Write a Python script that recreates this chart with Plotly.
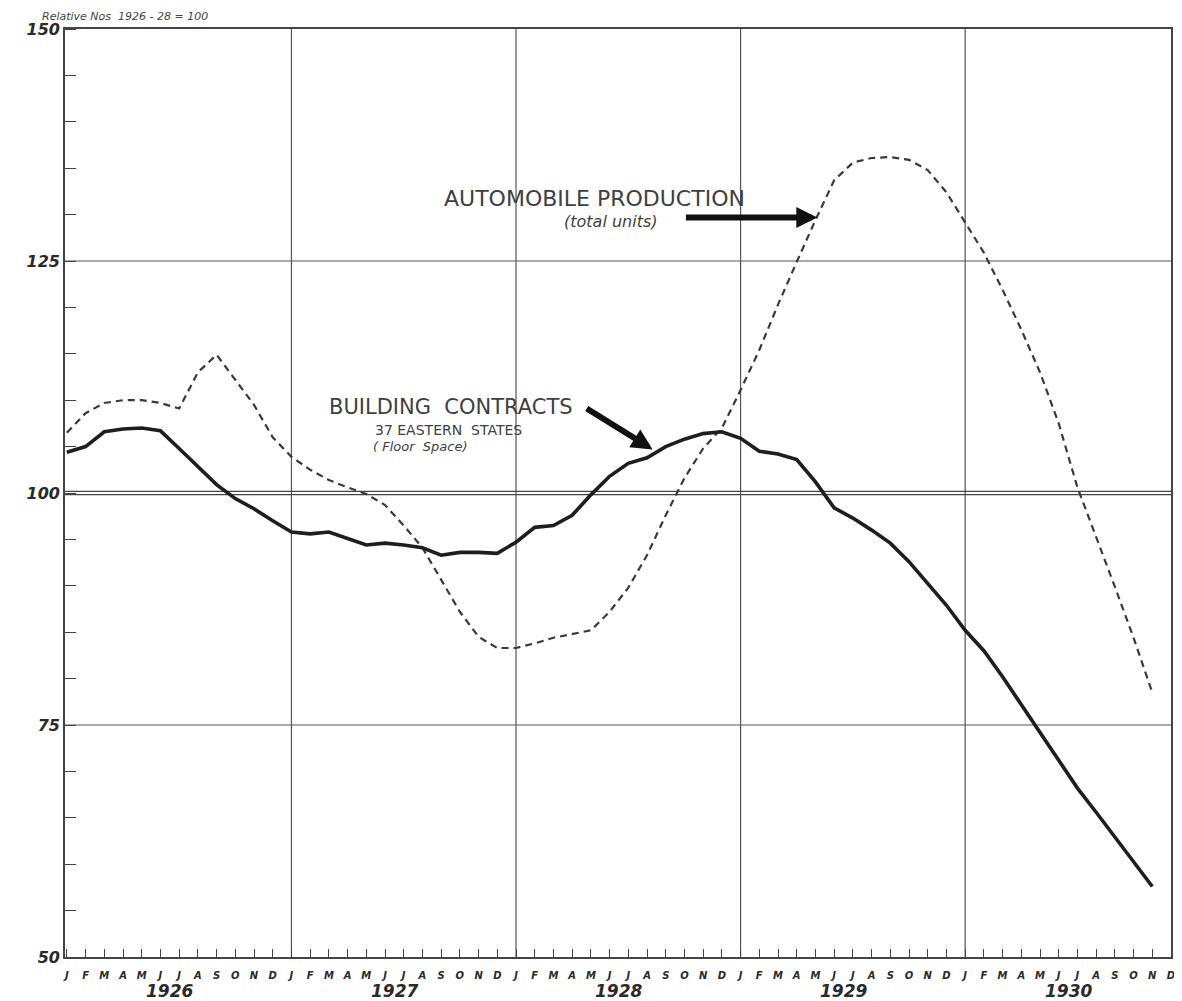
import plotly.graph_objects as go

# ---------------- data ----------------
years = ["1926", "1927", "1928", "1929", "1930"]
month_letters = ["J", "F", "M", "A", "M", "J", "J", "A", "S", "O", "N", "D"]

building_contracts = [
    104.4, 105.0, 106.6, 106.9, 107.0, 106.7, 104.8, 102.9, 100.9, 99.4, 98.3, 97.0,
    95.8, 95.6, 95.8, 95.1, 94.4, 94.6, 94.4, 94.1, 93.3, 93.6, 93.6, 93.5,
    94.7, 96.3, 96.5, 97.6, 99.8, 101.8, 103.2, 103.8, 105.0, 105.8, 106.4, 106.6,
    105.9, 104.5, 104.2, 103.6, 101.2, 98.4, 97.3, 96.0, 94.6, 92.6, 90.3, 87.9,
    85.2, 83.0, 80.2, 77.2, 74.2, 71.2, 68.2, 65.6, 62.9, 60.2, 57.6, None,
]

automobile_production = [
    106.5, 108.6, 109.7, 110.0, 110.0, 109.7, 109.1, 113.0, 114.9, 112.2, 109.5, 106.0,
    103.9, 102.5, 101.4, 100.6, 99.9, 98.7, 96.5, 94.1, 90.6, 87.2, 84.5, 83.3,
    83.3, 83.8, 84.4, 84.8, 85.2, 87.2, 89.8, 93.3, 97.6, 101.6, 104.8, 107.0,
    111.1, 115.4, 120.3, 124.9, 129.4, 133.7, 135.6, 136.1, 136.2, 135.9, 134.8, 132.4,
    129.2, 125.9, 121.9, 117.6, 113.0, 107.5, 100.6, 95.3, 89.9, 84.4, 78.5, None,
]

y_tick_vals = [50, 75, 100, 125, 150]
y_tick_text = ["50", "75", "100", "125", "150"]

# ---------------- figure ----------------
n = len(building_contracts)
x_idx = list(range(n))
tick_text = [m for _ in years for m in month_letters]

ink = "#2a2a2a"
label_font = dict(family="DejaVu Sans", color=ink, weight="bold", style="italic")

fig = go.Figure()

fig.add_trace(go.Scatter(
    x=x_idx, y=automobile_production, mode="lines",
    line=dict(color="#3a3a3a", width=2.2, dash="7px,5px"),
    connectgaps=False, showlegend=False, hoverinfo="skip",
))
fig.add_trace(go.Scatter(
    x=x_idx, y=building_contracts, mode="lines",
    line=dict(color="#1e1e1e", width=3.6),
    connectgaps=False, showlegend=False, hoverinfo="skip",
))

shapes = []
grid_col = "#555555"
for k in range(1, len(years)):
    shapes.append(dict(type="line", xref="x", yref="paper", x0=12 * k, x1=12 * k,
                       y0=0, y1=1, line=dict(color=grid_col, width=1.2), layer="below"))
for v in (75, 125):
    shapes.append(dict(type="line", xref="paper", yref="y", x0=0, x1=1, y0=v, y1=v,
                       line=dict(color=grid_col, width=1.2), layer="below"))
for v in (99.82, 100.18):
    shapes.append(dict(type="line", xref="paper", yref="y", x0=0, x1=1, y0=v, y1=v,
                       line=dict(color="#444444", width=1.3), layer="below"))

annotations = []
# header
annotations.append(dict(
    text="Relative Nos  1926 - 28 = 100", xref="paper", yref="paper",
    x=-0.0226, y=1.0, yshift=13, xanchor="left", yanchor="middle", showarrow=False,
    font=dict(family="DejaVu Sans", size=11, color="#444", style="italic"),
))
# years
for k, yr in enumerate(years):
    annotations.append(dict(
        text=yr, xref="x", yref="paper", x=12 * k + 5.5, y=0, yshift=-34,
        xanchor="center", yanchor="middle", showarrow=False,
        font=dict(size=17, **label_font),
    ))

text_font = dict(family="DejaVu Sans", color="#404040")
annotations += [
    dict(text="AUTOMOBILE PRODUCTION", xref="x", yref="y", x=28.2, y=131.7,
         showarrow=False, font=dict(size=22, **text_font)),
    dict(text="(total units)", xref="x", yref="y", x=29.1, y=129.3,
         showarrow=False, font=dict(size=16, style="italic", **text_font)),
    dict(text="", xref="x", yref="y", x=40.1, y=129.7, ax=33.0, ay=129.7,
         axref="x", ayref="y", showarrow=True, arrowhead=2, arrowsize=0.7,
         arrowwidth=6, arrowcolor="#111"),
    dict(text="BUILDING  CONTRACTS", xref="x", yref="y", x=20.5, y=109.3,
         showarrow=False, font=dict(size=21, **text_font)),
    dict(text="37 EASTERN  STATES", xref="x", yref="y", x=20.4, y=106.8,
         showarrow=False, font=dict(size=14, **text_font)),
    dict(text="( Floor  Space)", xref="x", yref="y", x=18.9, y=105.0,
         showarrow=False, font=dict(size=13, style="italic", **text_font)),
    dict(text="", xref="x", yref="y", x=31.3, y=104.7, ax=27.7, ay=109.2,
         axref="x", ayref="y", showarrow=True, arrowhead=2, arrowsize=0.7,
         arrowwidth=6, arrowcolor="#111"),
]

fig.update_layout(
    width=1174, height=993,
    margin=dict(l=57, r=11, t=21, b=44),
    paper_bgcolor="white", plot_bgcolor="white",
    shapes=shapes, annotations=annotations,
    showlegend=False,
)

fig.update_xaxes(
    range=[-0.1, 59.0], tickmode="array", tickvals=x_idx, ticktext=tick_text,
    ticks="inside", ticklen=8, tickwidth=1.3, tickcolor="#444",
    tickfont=dict(size=10, **label_font), ticklabelstandoff=8,
    showgrid=False, zeroline=False,
    showline=True, linecolor="#444", linewidth=1.6, mirror=True, automargin=False,
)
fig.update_yaxes(
    range=[50, 150], tickmode="array", tickvals=y_tick_vals, ticktext=y_tick_text,
    ticks="", tickfont=dict(size=16, **label_font), showgrid=False, zeroline=False,
    showline=True, linecolor="#444", linewidth=1.6, mirror=True, automargin=False,
    minor=dict(dtick=5, ticks="inside", ticklen=11, tickwidth=1.3, tickcolor="#444"),
)

fig.write_html("out.html")
